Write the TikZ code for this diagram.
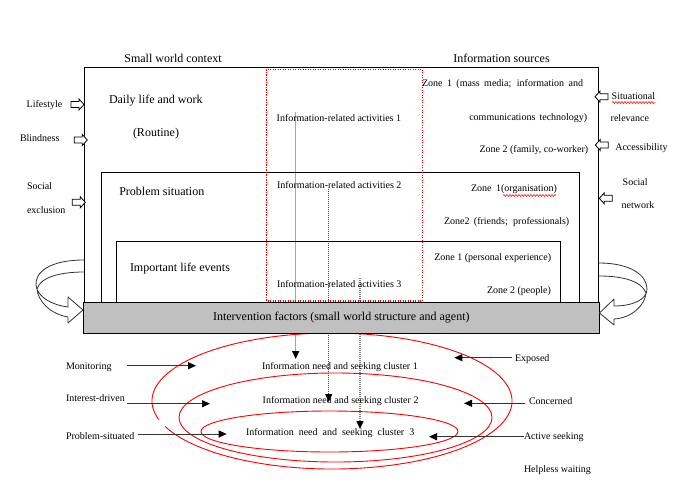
\documentclass[tikz,border=0pt]{standalone}
\usepackage{fontspec}
\setmainfont{Liberation Serif}
\usetikzlibrary{arrows.meta,decorations.pathmorphing}
\definecolor{barfill}{HTML}{C0C0C0}
\definecolor{vgray}{HTML}{A6A6A6}
\definecolor{linegray}{HTML}{404040}
\definecolor{dotgray}{HTML}{7F7F7F}
\definecolor{boxred}{HTML}{FF0000}
\tikzset{
  harrow/.pic={\draw[line width=0.8pt, fill=white] (-13,-3) -- (-5,-3) -- (-5,-5.5) -- (0,0) -- (-5,5.5) -- (-5,3) -- (-13,3) -- cycle;}
}
\begin{document}
\begin{tikzpicture}[x=1pt,y=-1pt,
  lbl/.style={inner sep=0pt, outer sep=0pt, text height=0.68em, text depth=0.22em},
  big/.style={lbl, font=\fontsize{12}{14}\selectfont},
  small/.style={lbl, font=\fontsize{10}{12}\selectfont},
  frame/.style={draw=black, line width=0.8pt},
  ell/.style={draw=red, line width=0.9pt},
  arr/.style={draw=black!80, line width=1pt, -{Triangle[length=8pt,width=7pt,color=black]}},
  dots/.style={dash pattern=on 1pt off 1pt},
  redbox/.style={draw=boxred, color=boxred, line width=1.1pt, dash pattern=on 1.3pt off 1.2pt},
  wavy/.style={draw=red, line width=0.5pt, decorate, decoration={snake, amplitude=1pt, segment length=3pt}},
  ribbon/.style={draw=black!80, line width=0.8pt, line join=round}
]
\useasboundingbox (0,0) rectangle (679,490);

% vertical connectors (under the bar)
\coordinate (v1s) at (295.7,112.3); \coordinate (v1e) at (295.7,359);
\coordinate (v2s) at (328.7,189);   \coordinate (v2e) at (328.7,402);
\coordinate (v3s) at (360,278);     \coordinate (v3e) at (360,429);
\draw[arr, draw=vgray, line width=1.5pt] (v1s) -- (v1e);
\draw[arr, draw=linegray, dots] (v2s) -- (v2e);
\draw[arr, draw=dotgray, dots, line width=1.3pt] (v3s) -- (v3e);

% ellipses
\coordinate (e1c) at (332,401);
\draw[ell] ([shift={(164:180 and 68)}]e1c) arc[start angle=164, end angle=518, x radius=180, y radius=68];
\draw[ell] (335.5,417.5) ellipse [x radius=156.5, y radius=44.5];
\draw[ell] (329.5,431.5) ellipse [x radius=128.5, y radius=20.5];

% frames
\draw[frame] (84,67.3) rectangle (598.7,302);
\draw[frame] (101.7,172.3) rectangle (579.3,302);
\draw[frame] (116.3,241) rectangle (560.3,302);
\draw[redbox] (266.7,69.3) rectangle (422.3,301);

% bar
\node[big, draw=black, line width=0.8pt, fill=barfill, minimum width=516pt, minimum height=31pt] (bar) at (341.3,317.8) {Intervention factors (small world structure and agent)};

% curved hollow arrows
\draw[ribbon] (84,260) .. controls (50,260) and (35,272) .. (36,285) .. controls (37,297) and (52,305) .. (68,307) -- (68,297) -- (83,310) -- (68,323) -- (68,317) .. controls (50,314) and (38,301) .. (37,289);
\draw[ribbon] (84,272) .. controls (58,272) and (40,278) .. (37,289);
\draw[ribbon] (599,263) .. controls (630,263) and (647,275) .. (647,289) .. controls (647,300) and (632,306) .. (614,306) -- (614,299) -- (599.5,313) -- (614,325) -- (614,319) .. controls (632,318) and (645,305) .. (646,293);
\draw[ribbon] (599,276) .. controls (625,276) and (642,282) .. (646,293);

% headings and box titles
\node[big] (swc) at (173,60) {Small world context};
\node[big] (isrc) at (501.5,60) {Information sources};
\node[big, anchor=west] (daily) at (109,101) {Daily life and work};
\node[big, anchor=west] (routine) at (133,134.3) {(Routine)};
\node[big, anchor=west] (prob) at (119.3,192.7) {Problem situation};
\node[big, anchor=west] (life) at (130,269) {Important life events};

% activities
\node[small, anchor=west] (act1) at (276.7,119.3) {Information-related activities 1};
\node[small, anchor=west] (act2) at (277,185.7) {Information-related activities 2};
\node[small, anchor=west] (act3) at (277,284.7) {Information-related activities 3};

% zones
\node[small, anchor=west] (z1a) at (422,84.3) {\makebox[161pt][s]{Zone 1 (mass media; information and}};
\node[small, anchor=east] (z1b) at (587.3,117.7) {\makebox[118pt][s]{communications technology)}};
\node[small, anchor=east] (z2a) at (588.3,150.3) {Zone 2 (family, co-worker)};
\node[small, anchor=west] (z1o) at (471,188.7) {\makebox[86pt][s]{Zone 1(organisation)}};
\node[small, anchor=west] (z2f) at (444,222.3) {\makebox[125.3pt][s]{Zone2 (friends; professionals)}};
\node[small, anchor=west] (z1p) at (434.3,257.7) {Zone 1 (personal experience)};
\node[small, anchor=west] (z2p) at (487,290.7) {Zone 2 (people)};
\draw[wavy] (503,195.5) -- (556,195.5);

% side labels
\node[small, anchor=west] (lifestyle) at (26.7,105) {Lifestyle};
\node[small, anchor=west] (blind) at (20,139.3) {Blindness};
\node[small, anchor=west] (soc1) at (27,187.3) {Social};
\node[small, anchor=west] (soc2) at (27,210.7) {exclusion};
\node[small, anchor=west] (sit1) at (611.7,96.7) {Situational};
\node[small, anchor=west] (sit2) at (610.7,119) {relevance};
\node[small, anchor=west] (acc) at (615.3,147.7) {Accessibility};
\node[small, anchor=west] (net1) at (622.7,183.3) {Social};
\node[small, anchor=west] (net2) at (621.7,205.7) {network};
\draw[wavy] (612,102.5) -- (655,102.5);

\pic at (84,104.5) {harrow};
\pic at (87.3,140) {harrow};
\pic at (85.3,202.3) {harrow};
\pic[rotate=180] at (595,96.7) {harrow};
\pic[rotate=180] at (595.3,145) {harrow};
\pic[rotate=180] at (599.3,198.3) {harrow};

% clusters
\node[small, anchor=west] (cl1) at (262,367) {Information need and seeking cluster 1};
\node[small, anchor=west] (cl2) at (262.7,401) {Information need and seeking cluster 2};
\node[small, anchor=west] (cl3) at (246,432.7) {\makebox[168.3pt][s]{Information need and seeking cluster 3}};

% left and right labels
\node[small, anchor=west] (mon) at (66,367.3) {Monitoring};
\node[small, anchor=west] (int) at (66,399) {Interest-driven};
\node[small, anchor=west] (pbs) at (66,437.3) {Problem-situated};
\node[small, anchor=west] (exp) at (515,359.3) {Exposed};
\node[small, anchor=west] (con) at (529,402.3) {Concerned};
\node[small, anchor=west] (act) at (524,437.3) {Active seeking};
\node[small, anchor=west] (help) at (524,470) {Helpless waiting};

\coordinate (monS) at (127,365.7);   \coordinate (monE) at (196,365.7);
\coordinate (intS) at (126.7,403.7); \coordinate (intE) at (210,403.7);
\coordinate (pbsS) at (138.3,434);   \coordinate (pbsE) at (226.7,434);
\coordinate (expS) at (511.7,357.7); \coordinate (expE) at (454.3,357.7);
\coordinate (conS) at (525,403.3);   \coordinate (conE) at (464,403.3);
\coordinate (actS) at (524,436.7);   \coordinate (actE) at (429,436.7);
\draw[arr] (monS) -- (monE);
\draw[arr] (intS) -- (intE);
\draw[arr] (pbsS) -- (pbsE);
\draw[arr] (expS) -- (expE);
\draw[arr] (conS) -- (conE);
\draw[arr] (actS) -- (actE);
\end{tikzpicture}
\end{document}
